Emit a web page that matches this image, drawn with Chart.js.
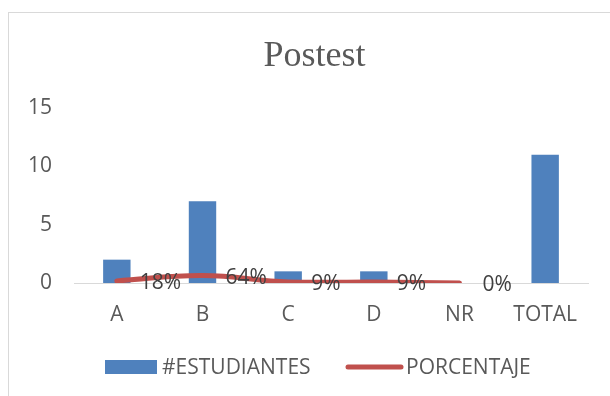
<!DOCTYPE html>
<html>
<head>
<meta charset="utf-8">
<script src="https://cdn.jsdelivr.net/npm/chart.js@4.4.0/dist/chart.umd.min.js"></script>
<style>
html,body{margin:0;padding:0;background:#fff;}
#wrap{width:610px;height:396px;position:relative;}
</style>
</head>
<body>
<div id="wrap"><canvas id="c" width="610" height="396"></canvas></div>
<script>
const categories = ['A', 'B', 'C', 'D', 'NR', 'TOTAL'];
const estudiantes = [2, 7, 1, 1, 0, 11];
const porcentaje = [0.18, 0.64, 0.09, 0.09, 0, null];
const yTicks = [0, 5, 10, 15];
const titleText = 'Postest';

const FONT = '"Open Sans", "Liberation Sans", sans-serif';
const GRAY = '#595959';
const FS = 21;

const framePlugin = {
  id: 'frame',
  beforeDraw(chart) {
    const ctx = chart.ctx;
    ctx.save();
    ctx.fillStyle = '#fff';
    ctx.fillRect(0, 0, chart.width, chart.height);
    ctx.strokeStyle = '#d9d9d9';
    ctx.lineWidth = 1;
    ctx.strokeRect(8.5, 12.5, 800, 600);
    // title
    ctx.font = '36px "Liberation Serif", "Times New Roman", serif';
    ctx.fillStyle = GRAY;
    ctx.textAlign = 'center';
    ctx.textBaseline = 'alphabetic';
    ctx.fillText(titleText, 314.5, 66);
    ctx.restore();
  }
};

const labelPlugin = {
  id: 'pctLabels',
  afterDatasetsDraw(chart) {
    const ctx = chart.ctx;
    const meta = chart.getDatasetMeta(1);
    ctx.save();
    ctx.font = FS + 'px ' + FONT;
    ctx.fillStyle = '#404040';
    ctx.textAlign = 'left';
    ctx.textBaseline = 'middle';
    meta.data.forEach((pt, i) => {
      const v = porcentaje[i];
      if (v === null || v === undefined) return;
      ctx.fillText(Math.round(v * 100) + '%', pt.x + 23, pt.y + 2);
    });
    ctx.restore();
  }
};

const legendPlugin = {
  id: 'customLegend',
  afterDraw(chart) {
    const ctx = chart.ctx;
    const ds = chart.data.datasets;
    const y = 367;
    ctx.save();
    ctx.font = FS + 'px ' + FONT;
    ctx.textBaseline = 'middle';
    ctx.textAlign = 'left';
    ctx.fillStyle = ds[0].backgroundColor;
    ctx.fillRect(105, y - 7, 52, 14);
    ctx.fillStyle = GRAY;
    ctx.fillText(ds[0].label, 162, y + 1);
    ctx.strokeStyle = ds[1].borderColor;
    ctx.lineWidth = 5;
    ctx.lineCap = 'round';
    ctx.beginPath();
    ctx.moveTo(348, y);
    ctx.lineTo(401, y);
    ctx.stroke();
    ctx.fillText(ds[1].label, 406, y + 1);
    ctx.restore();
  }
};

new Chart(document.getElementById('c'), {
  data: {
    labels: categories,
    datasets: [
      {
        type: 'bar',
        label: '#ESTUDIANTES',
        data: estudiantes,
        backgroundColor: '#4F81BD',
        categoryPercentage: 1,
        barPercentage: 0.32,
        order: 2
      },
      {
        type: 'line',
        label: 'PORCENTAJE',
        data: porcentaje,
        borderColor: '#C0504D',
        backgroundColor: '#C0504D',
        borderWidth: 5,
        borderCapStyle: 'round',
        borderJoinStyle: 'round',
        tension: 0.4,
        pointRadius: 0,
        spanGaps: false,
        order: 1
      }
    ]
  },
  options: {
    responsive: false,
    animation: false,
    devicePixelRatio: 1,
    layout: { padding: { left: 0, right: 22, top: 108, bottom: 0 } },
    plugins: {
      legend: { display: false },
      tooltip: { enabled: false },
      title: { display: false }
    },
    scales: {
      x: {
        grid: { display: false, drawTicks: false },
        border: { display: true, color: '#d9d9d9', width: 1 },
        ticks: { color: GRAY, font: { family: FONT, size: FS }, padding: 19 },
        afterFit(scale) { scale.height = 113; }
      },
      y: {
        min: 0,
        max: 15,
        grid: { display: false, drawTicks: false },
        border: { display: false },
        afterBuildTicks(scale) { scale.ticks = yTicks.map(v => ({ value: v })); },
        ticks: { color: GRAY, font: { family: FONT, size: FS }, padding: 22 },
        afterFit(scale) { scale.width = 74; }
      }
    }
  },
  plugins: [framePlugin, labelPlugin, legendPlugin]
});
</script>
</body>
</html>
